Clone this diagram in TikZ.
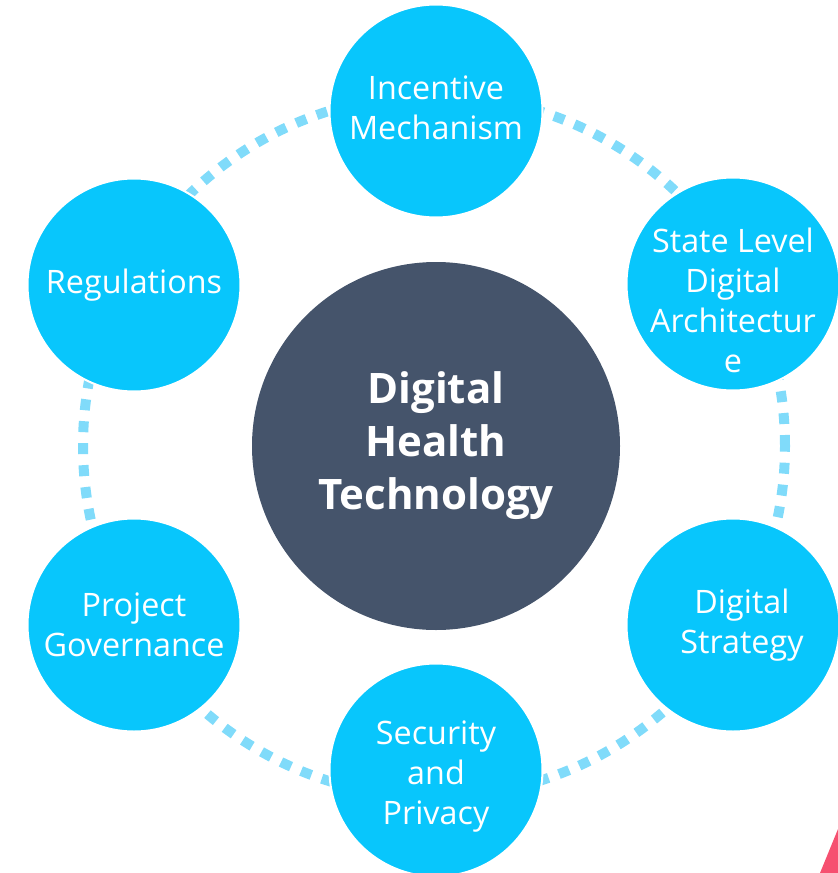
\documentclass[tikz,border=0pt]{standalone}
\usepackage{fontspec}
\setmainfont{Open Sans}
\definecolor{ringblue}{RGB}{128, 219, 250}
\definecolor{satblue}{RGB}{8, 198, 252}
\definecolor{coreslate}{RGB}{69, 84, 107}
\definecolor{cornerpink}{RGB}{246, 80, 112}
\tikzset{
  satellite/.style={circle,fill=satblue,draw=white,line width=2pt,minimum size=213pt,inner sep=0pt},
  sattext/.style={text=white,align=center,inner sep=0pt,font=\fontsize{32.3}{40}\selectfont},
  core/.style={circle,fill=coreslate,minimum size=368pt,inner sep=0pt,text=white,align=center,font=\fontsize{42}{53}\selectfont\bfseries}
}
\begin{document}
\begin{tikzpicture}[x=1pt,y=-1pt]
        \useasboundingbox (0,0) rectangle (838,873);
        \draw[ringblue,line width=10pt,dash pattern=on 11pt off 11pt] (434,446) circle [radius=351pt];

        \node[core] (dht) at (436,446) {Digital\\Health\\Technology};

        \node[satellite,label={[sattext,yshift=3pt]center:{Incentive\\Mechanism}}] (incentive) at (436,111) {};
        \node[satellite,label={[sattext,yshift=-16pt]center:{State Level\\Digital\\Architectur\\e}}] (state) at (733,284) {};
        \node[satellite,label={[sattext]center:{Regulations}}] (regulations) at (134,285) {};
        \node[satellite,label={[sattext]center:{Project\\Governance}}] (governance) at (134,625) {};
        \node[satellite,label={[sattext,xshift=9pt]center:{Digital\\Strategy}}] (strategy) at (733,625) {};
        \node[satellite,label={[sattext,yshift=-7pt]center:{Security\\and\\Privacy}}] (security) at (436,770) {};

        \fill[cornerpink] (820,873) -- (838,829) -- (838,873) -- cycle;
    \end{tikzpicture}
\end{document}
